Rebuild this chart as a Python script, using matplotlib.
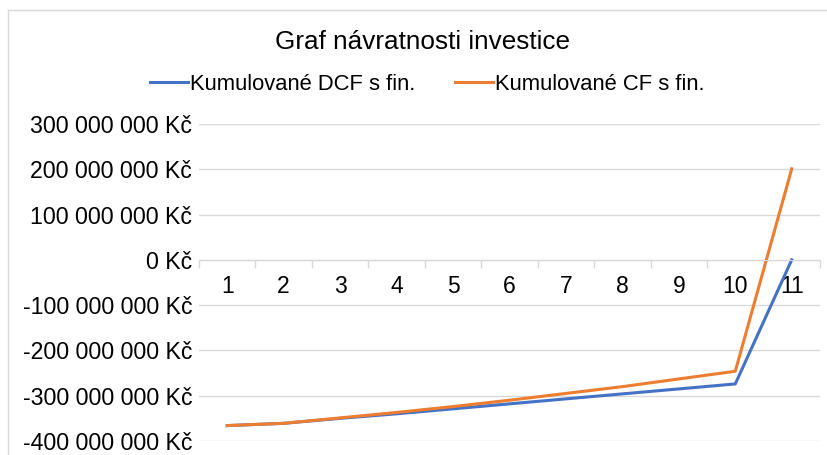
import matplotlib.pyplot as plt
from matplotlib.lines import Line2D

plt.rcParams['font.family'] = ['Liberation Sans', 'DejaVu Sans']

years = list(range(1, 12))
dcf = [-366e6, -361e6, -350e6, -340e6, -329e6, -318e6, -307e6, -296e6, -285e6, -274e6, 0]
cf = [-366e6, -361e6, -349e6, -337e6, -324e6, -310e6, -295e6, -280e6, -263e6, -246e6, 201e6]
y_ticks = [-400e6, -300e6, -200e6, -100e6, 0, 100e6, 200e6, 300e6]
y_labels = ['-400 000 000 Kč', '-300 000 000 Kč', '-200 000 000 Kč', '-100 000 000 Kč',
            '0 Kč', '100 000 000 Kč', '200 000 000 Kč', '300 000 000 Kč']

fig = plt.figure(figsize=(8.28, 4.55), dpi=100)
ax = fig.add_axes([0.2403, 0.0308, 0.75, 0.6967])

ax.plot(years, dcf, color='#4472C4', lw=2.2, label='Kumulované DCF s fin.')
ax.plot(years, cf, color='#ED7D31', lw=2.2, label='Kumulované CF s fin.')

ax.set_xlim(0.5, 11.5)
ax.set_ylim(-400e6, 300e6)
ax.set_yticks(y_ticks)
ax.set_yticklabels(y_labels, fontsize=16.7)
ax.tick_params(axis='y', length=0, pad=5)
ax.grid(axis='y', color='#D9D9D9', lw=1)
ax.set_axisbelow(True)

# category axis crossing at zero
for s in ['left', 'right', 'top']:
    ax.spines[s].set_visible(False)
ax.spines['bottom'].set_position(('data', 0))
ax.spines['bottom'].set_color('#D9D9D9')
ax.set_xticks(years)
ax.set_xticklabels([str(y) for y in years], fontsize=16.5)
ax.set_xticks([y + 0.5 for y in [0] + years], minor=True)
ax.tick_params(axis='x', which='major', length=0, pad=11)
ax.tick_params(axis='x', which='minor', length=6, color='#D9D9D9', width=1)

fig.text(0.51, 0.908, 'Graf návratnosti investice', ha='center', va='center', fontsize=18.8)
fig.legend(loc='center', bbox_to_anchor=(0.516, 0.815), ncol=2, frameon=False,
           fontsize=15.8, handlelength=1.75, handletextpad=0.1, columnspacing=1.8)

# chart area border
fig.add_artist(Line2D([8/828, 1], [1 - 9.5/455] * 2, color='#D9D9D9', lw=1))
fig.add_artist(Line2D([8/828] * 2, [0, 1 - 9.5/455], color='#D9D9D9', lw=1))

fig.savefig('out.png', dpi=100)
